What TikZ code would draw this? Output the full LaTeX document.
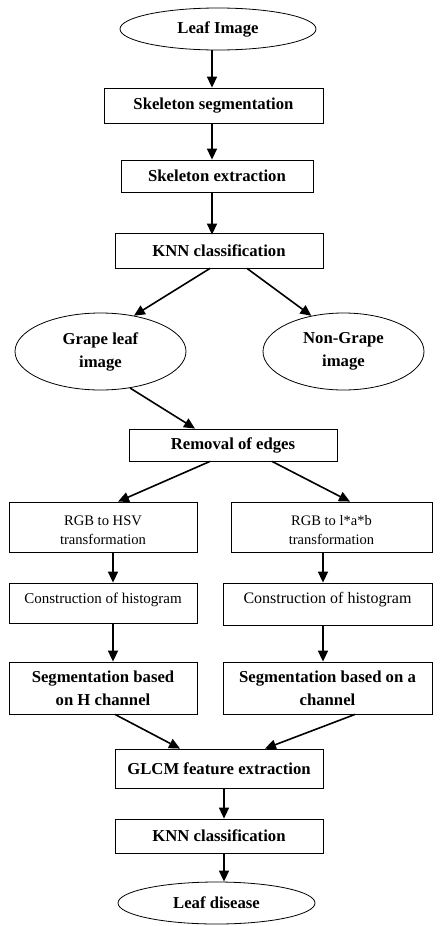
\documentclass[tikz,border=0pt]{standalone}
\usepackage{fontspec}
\setmainfont{Liberation Serif}
\usetikzlibrary{arrows.meta,shapes.geometric}
\begin{document}
\begin{tikzpicture}[x=1pt,y=-1pt,
  box/.style={draw,line width=0.8pt,inner sep=0pt,align=center},
  oval/.style={draw,ellipse,line width=0.8pt,inner sep=0pt,align=center},
  main/.style={font=\fontsize{16.7}{23}\selectfont\bfseries},
  arr/.style={line width=1.6pt,-{Triangle[length=11pt,width=10pt]}}]
\useasboundingbox (0,0) rectangle (441,926);
\fill[white] (0,0) rectangle (441,926);
\node[oval,main,minimum width=196pt,minimum height=42pt] (leaf) at (218,29) {Leaf Image};
\node[box,main,minimum width=219pt,minimum height=35pt] (seg) at (213.5,105.5) {Skeleton segmentation};
\node[box,main,minimum width=192pt,minimum height=32pt] (ext) at (217,176) {Skeleton extraction};
\node[box,main,minimum width=208pt,minimum height=35pt] (knn1) at (219,250.5) {KNN classification};
\node[oval,main,minimum width=171pt,minimum height=77pt] (grape) at (100.5,351.5) {Grape leaf\\image};
\node[oval,main,minimum width=161pt,minimum height=77pt] (nongrape) at (343.5,351.5) {Non-Grape\\image};
\node[box,main,minimum width=208pt,minimum height=32pt] (removal) at (233,445) {Removal of edges};
\node[box,minimum width=188pt,minimum height=50pt] (hsv) at (103,527) {};
\node[align=center,inner sep=0pt,font=\fontsize{14.6}{19}\selectfont] (hsvt) at (103,530) {RGB to HSV\\transformation};
\node[box,minimum width=201pt,minimum height=50pt] (lab) at (331.5,527) {};
\node[align=center,inner sep=0pt,font=\fontsize{14.5}{19}\selectfont] (labt) at (331.5,530) {RGB to l*a*b\\transformation};
\node[box,minimum width=188pt,minimum height=40pt] (hist1) at (103,603) {};
\node[inner sep=0pt,font=\fontsize{15}{18}\selectfont] (hist1t) at (103,600) {Construction of histogram};
\node[box,minimum width=209pt,minimum height=42pt] (hist2) at (327.5,604) {};
\node[inner sep=0pt,font=\fontsize{16}{18}\selectfont] (hist2t) at (327.5,600) {Construction of histogram};
\node[box,main,minimum width=188pt,minimum height=52pt] (segH) at (103,688) {Segmentation based\\on H channel};
\node[box,main,minimum width=209pt,minimum height=52pt] (segA) at (327.5,688) {Segmentation based on a\\channel};
\node[box,main,minimum width=208pt,minimum height=39pt] (glcm) at (219,768.5) {GLCM feature extraction};
\node[box,main,minimum width=208pt,minimum height=34pt] (knn2) at (219,836) {KNN classification};
\node[oval,main,minimum width=197pt,minimum height=42pt] (disease) at (216.5,903) {Leaf disease};
\draw[arr] ([xshift=-6pt]leaf.south) -- ([xshift=-1.5pt]seg.north);
\draw[arr] ([xshift=-1.5pt]seg.south) -- ([xshift=-5pt]ext.north);
\draw[arr] ([xshift=-5pt]ext.south) -- ([xshift=-7pt,yshift=-2pt]knn1.north);
\draw[arr] ([xshift=-9pt]knn1.south) -- (grape.47);
\draw[arr] ([xshift=28pt]knn1.south) -- (nongrape.132);
\draw[arr] (grape.-51) -- ([xshift=-38pt]removal.north);
\draw[arr] ([xshift=-23pt]removal.south) -- ([xshift=15pt]hsv.north);
\draw[arr] ([xshift=39pt]removal.south) -- ([xshift=18.5pt]lab.north);
\draw[arr] ([xshift=10pt]hsv.south) -- ([xshift=10pt]hist1.north);
\draw[arr] ([xshift=10pt]hist1.south) -- ([xshift=10pt]segH.north);
\draw[arr] ([xshift=-8.5pt]lab.south) -- ([xshift=-4.5pt]hist2.north);
\draw[arr] ([xshift=-4.5pt]hist2.south) -- ([xshift=-4.5pt]segA.north);
\draw[arr] ([xshift=12pt]segH.south) -- ([xshift=-39pt]glcm.north);
\draw[arr] ([xshift=27.5pt]segA.south) -- ([xshift=46pt]glcm.north);
\draw[arr] ([xshift=5pt]glcm.south) -- ([xshift=5pt]knn2.north);
\draw[arr] ([xshift=5pt]knn2.south) -- ([xshift=7.5pt]disease.north);
\end{tikzpicture}
\end{document}
